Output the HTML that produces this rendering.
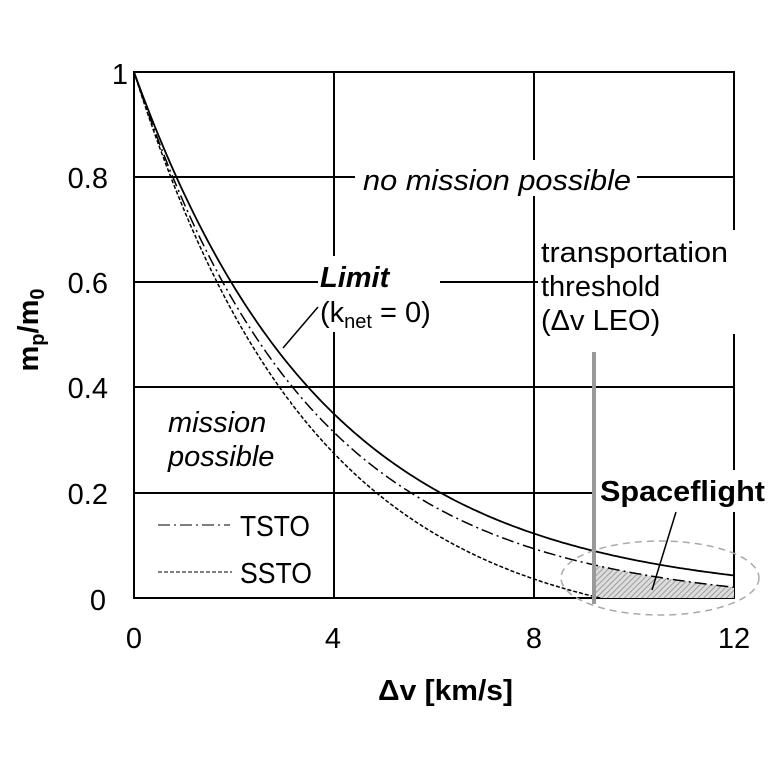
<!DOCTYPE html>
<html><head><meta charset="utf-8"><style>
html,body{margin:0;padding:0;background:#fff;}
svg{display:block;font-family:"Liberation Sans",Arial,sans-serif;}
</style></head><body>
<svg id="s" width="768" height="768" viewBox="0 0 768 768" xmlns="http://www.w3.org/2000/svg">
<defs>
<pattern id="h" width="4" height="4" patternUnits="userSpaceOnUse" patternTransform="rotate(45)">
<rect width="4" height="4" fill="#ddd"/><line x1="0" y1="0" x2="0" y2="4" stroke="#888" stroke-width="1.5"/>
</pattern>
</defs>
<g stroke="#000" stroke-width="2" fill="none">
<rect x="134" y="72" width="600" height="526"/>
<line x1="334" y1="72" x2="334" y2="598"/>
<line x1="534" y1="72" x2="534" y2="598"/>
<line x1="134" y1="177" x2="734" y2="177"/>
<line x1="134" y1="282" x2="734" y2="282"/>
<line x1="134" y1="387" x2="734" y2="387"/>
<line x1="134" y1="493" x2="734" y2="493"/>
</g>
<path id="shade" fill="url(#h)" stroke="none"/>
<path id="lim" fill="none" stroke="#000" stroke-width="1.8"/>
<path id="tsto" fill="none" stroke="#000" stroke-width="1.5" stroke-dasharray="12,4,2,4"/>
<path id="ssto" fill="none" stroke="#000" stroke-width="1.5" stroke-dasharray="4,2"/>
<rect x="355" y="160" width="282" height="36" fill="#fff"/>
<rect x="318" y="256" width="122" height="76" fill="#fff"/>
<rect x="538" y="230" width="200" height="104" fill="#fff"/>
<rect x="596" y="470" width="172" height="42" fill="#fff"/>
<rect x="160" y="400" width="130" height="76" fill="#fff"/>
<rect x="234" y="505" width="96" height="40" fill="#fff"/>
<rect x="234" y="553" width="98" height="42" fill="#fff"/>
<line x1="594" y1="352" x2="594" y2="604" stroke="#999" stroke-width="4"/>
<ellipse cx="660" cy="578" rx="99" ry="37" fill="none" stroke="#aaa" stroke-width="1.5" stroke-dasharray="7,5"/>
<line x1="676" y1="512" x2="652" y2="590" stroke="#000" stroke-width="1.5"/>
<line x1="318" y1="307" x2="283" y2="348" stroke="#000" stroke-width="1.5"/>
<line x1="158" y1="525" x2="230" y2="525" stroke="#555" stroke-width="1.5" stroke-dasharray="12,4,2,4"/>
<line x1="158" y1="572" x2="232" y2="572" stroke="#555" stroke-width="1.5" stroke-dasharray="4,2"/>
<g font-size="29" fill="#000">
<text x="128" y="84" text-anchor="end">1</text>
<text x="108" y="188" text-anchor="end">0.8</text>
<text x="108" y="293" text-anchor="end">0.6</text>
<text x="108" y="398" text-anchor="end">0.4</text>
<text x="108" y="504" text-anchor="end">0.2</text>
<text x="106" y="610" text-anchor="end">0</text>
<text x="134" y="648" text-anchor="middle">0</text>
<text x="333" y="648" text-anchor="middle">4</text>
<text x="534" y="648" text-anchor="middle">8</text>
<text x="734" y="648" text-anchor="middle">12</text>
<text x="363" y="190" font-style="italic" textLength="268" lengthAdjust="spacingAndGlyphs">no mission possible</text>
<text x="320" y="287" font-weight="bold" font-style="italic">Limit</text>
<text x="320" y="322">(k<tspan font-size="20" dy="6">net</tspan><tspan dy="-6"> = 0)</tspan></text>
<text x="541" y="262" textLength="187" lengthAdjust="spacingAndGlyphs">transportation</text>
<text x="541" y="296">threshold</text>
<text x="541" y="330">(Δv LEO)</text>
<text x="600" y="501" font-weight="bold" textLength="165" lengthAdjust="spacingAndGlyphs">Spaceflight</text>
<text x="168" y="432" font-style="italic">mission</text>
<text x="168" y="466" font-style="italic">possible</text>
<text x="240" y="536" textLength="70" lengthAdjust="spacingAndGlyphs">TSTO</text>
<text x="240" y="583" textLength="72" lengthAdjust="spacingAndGlyphs">SSTO</text>
<text x="378" y="700" font-weight="bold" textLength="135" lengthAdjust="spacingAndGlyphs">Δv [km/s]</text>
<text transform="translate(38,330) rotate(-90)" text-anchor="middle" font-weight="bold">m<tspan font-size="20" dy="6">p</tspan><tspan dy="-6">/m</tspan><tspan font-size="20" dy="6">0</tspan></text>
</g>
</svg>
<script>
function X(v){return 134+v*50;}function Y(m){return 598-m*526;}
function lim(x){return Math.exp(-x/3.81);}
function ts(x){return Math.exp(-x/3.5)-0.001*x;}
function ss(x){return Math.max(0,(Math.exp(-x/3.6)-0.075)/0.925);}
function path(f,a,b){var d="";for(var i=0;i<=200;i++){var x=a+(b-a)*i/200;d+=(i?"L":"M")+X(x).toFixed(1)+","+Y(f(x)).toFixed(1);}return d;}
document.getElementById("lim").setAttribute("d",path(lim,0,12));
document.getElementById("tsto").setAttribute("d",path(ts,0,12));
document.getElementById("ssto").setAttribute("d",path(ss,0,9.35));
document.getElementById("shade").setAttribute("d",path(ts,9.2,12)+"L734,598L594,598Z");
</script>
</body></html>
